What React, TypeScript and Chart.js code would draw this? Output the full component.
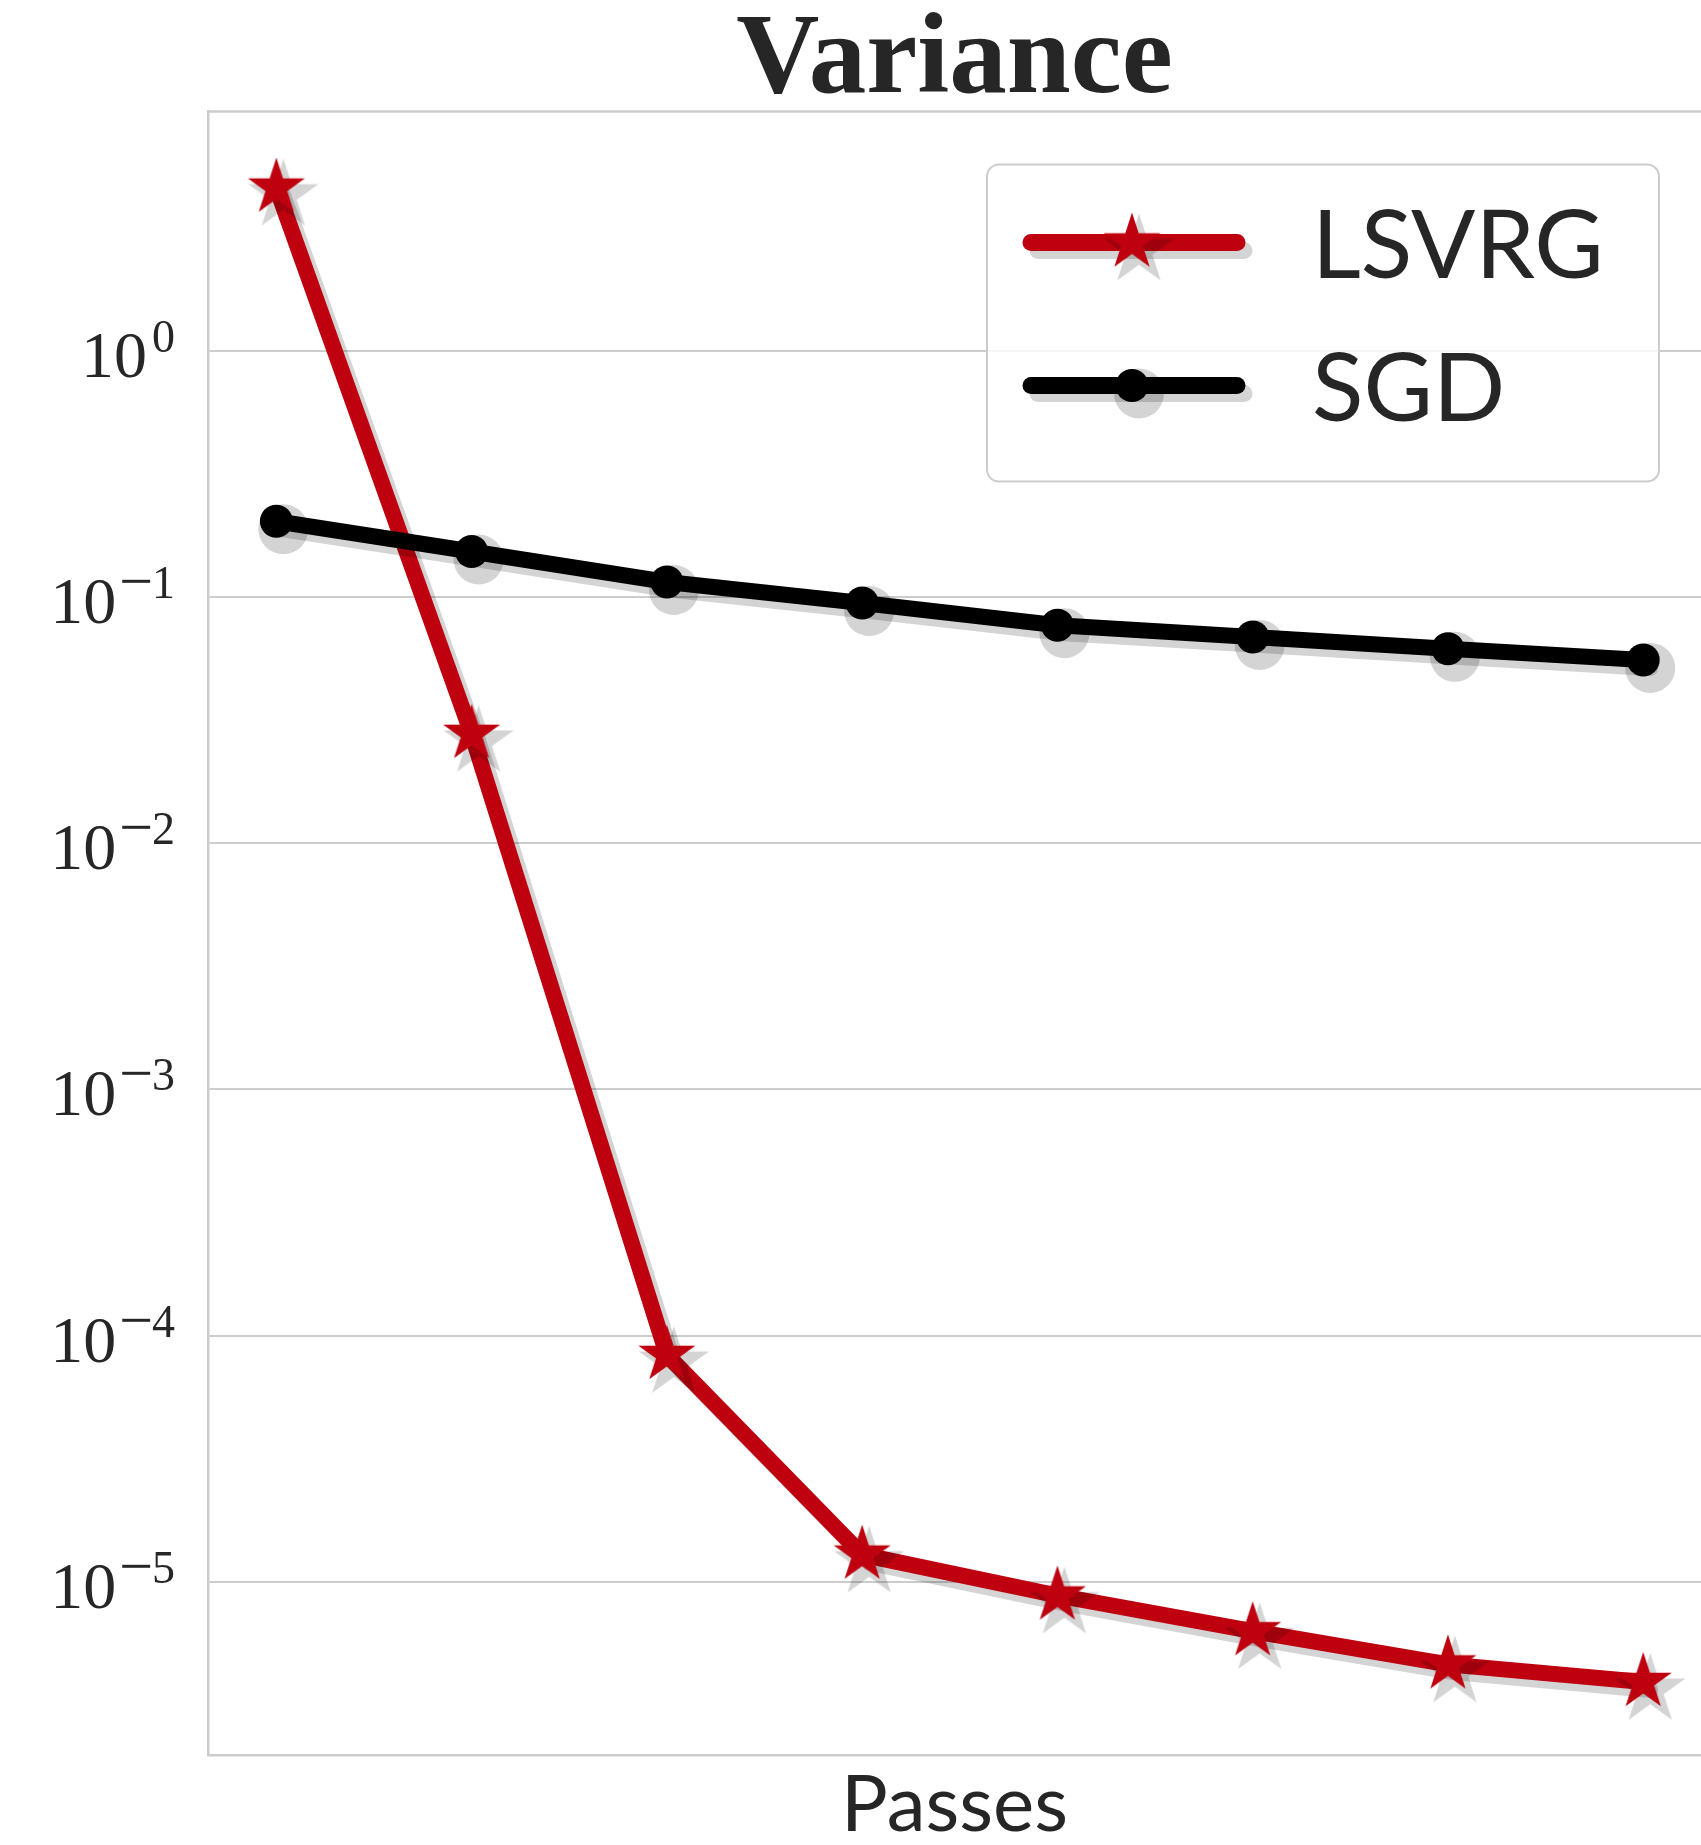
import { useEffect, useRef } from 'react';
import { Chart, registerables } from 'chart.js';

Chart.register(...registerables);

// ---- data ----
const passIndex = [0, 1, 2, 3, 4, 5, 6, 7];
const lsvrgValues = [4.6, 0.0278, 8.35e-5, 1.29e-5, 8.8e-6, 6.3e-6, 4.62e-6, 3.92e-6];
const sgdValues = [0.203, 0.153, 0.115, 0.0945, 0.0768, 0.0688, 0.0616, 0.0555];
const yTickExponents = [0, -1, -2, -3, -4, -5];
const seriesNames = ['LSVRG', 'SGD'];
const chartTitle = 'Variance';
const xAxisTitle = 'Passes';

const Y_MIN = 1.98e-6;
const Y_MAX = 9.37;
const X_MIN = -0.35;
const X_MAX = 7.296;

// ---- style ----
const RED = '#be000f';
const BLACK = '#000000';
const SHADOW = 'rgba(0,0,0,0.17)';
const TEXT = '#262626';
const GRID = '#cccccc';
const LINE_W = 16;
const SHADOW_DX = 7;
const SHADOW_DY = 8;
const CIRCLE_R = 16.5;
const CIRCLE_SHADOW_R = 25;
const STAR_R = 30;
const STAR_SHADOW_R = 37;

function makeStar(R: number, color: string): HTMLCanvasElement {
  const pad = 2;
  const size = Math.ceil(2 * R + 2 * pad);
  const c = document.createElement('canvas');
  c.width = size;
  c.height = size;
  const ctx = c.getContext('2d')!;
  const cx = size / 2;
  const cy = size / 2;
  const r = R * 0.381966;
  ctx.beginPath();
  for (let i = 0; i < 10; i++) {
    const rad = i % 2 === 0 ? R : r;
    const a = -Math.PI / 2 + (i * Math.PI) / 5;
    const px = cx + rad * Math.cos(a);
    const py = cy + rad * Math.sin(a);
    if (i === 0) ctx.moveTo(px, py);
    else ctx.lineTo(px, py);
  }
  ctx.closePath();
  ctx.fillStyle = color;
  ctx.fill();
  return c;
}

export default function App() {
  const ref = useRef<HTMLCanvasElement>(null);

  useEffect(() => {
    const canvas = ref.current!;
    const starMain = makeStar(STAR_R, RED);
    const starShadow = makeStar(STAR_SHADOW_R, SHADOW);
    const pts = (vals: number[]) => passIndex.map((x, i) => ({ x, y: vals[i] }));

    const lineDs = (vals: number[], color: string, shadow: boolean) => ({
      data: pts(vals),
      borderColor: shadow ? SHADOW : color,
      backgroundColor: shadow ? SHADOW : color,
      borderWidth: LINE_W,
      pointRadius: 0,
      pointHoverRadius: 0,
      borderCapStyle: 'round',
      borderJoinStyle: 'round',
      fill: false,
      tension: 0,
      clip: false,
      isShadow: shadow,
    });
    const pointDs = (vals: number[], color: string, shadow: boolean, style: any, radius: number) => ({
      data: pts(vals),
      showLine: false,
      pointStyle: style,
      pointRadius: radius,
      pointHoverRadius: radius,
      pointBackgroundColor: color,
      pointBorderColor: color,
      pointBorderWidth: 0,
      borderColor: color,
      backgroundColor: color,
      clip: false,
      isShadow: shadow,
    });

    const shadowPlugin = {
      id: 'offsetShadow',
      beforeDatasetDraw(chart: any, args: any) {
        const ds = chart.data.datasets[args.index];
        if (ds.isShadow) {
          chart.ctx.save();
          chart.ctx.translate(SHADOW_DX, SHADOW_DY);
        }
      },
      afterDatasetDraw(chart: any, args: any) {
        const ds = chart.data.datasets[args.index];
        if (ds.isShadow) chart.ctx.restore();
      },
    };

    const framePlugin = {
      id: 'topSpine',
      beforeDatasetsDraw(chart: any) {
        const { ctx, chartArea } = chart;
        ctx.save();
        ctx.strokeStyle = GRID;
        ctx.lineWidth = 2.5;
        ctx.beginPath();
        ctx.moveTo(chartArea.left, chartArea.top);
        ctx.lineTo(chartArea.right, chartArea.top);
        ctx.stroke();
        ctx.restore();
      },
    };

    const tickLabelPlugin = {
      id: 'powerTicks',
      afterDraw(chart: any) {
        const { ctx, chartArea } = chart;
        const y = chart.scales.y;
        const right = chartArea.left - 33;
        ctx.save();
        ctx.fillStyle = TEXT;
        ctx.textAlign = 'left';
        ctx.textBaseline = 'alphabetic';
        for (const e of yTickExponents) {
          const py = y.getPixelForValue(Math.pow(10, e));
          const digits = String(Math.abs(e));
          ctx.font = "46px 'Liberation Serif', serif";
          const digW = ctx.measureText(digits).width;
          let x = right - digW;
          ctx.fillText(digits, x, py + 1);
          let gap = 5;
          if (e < 0) {
            ctx.font = "60px 'Liberation Serif', serif";
            const mW = ctx.measureText('\u2212').width;
            x = x - mW + 1;
            ctx.fillText('\u2212', x, py + 4);
            gap = 3;
          }
          ctx.font = "66px 'Liberation Serif', serif";
          const mainW = ctx.measureText('10').width;
          ctx.fillText('10', x - gap - mainW, py + 26);
        }
        ctx.restore();
      },
    };

    const legendPlugin = {
      id: 'boxLegend',
      afterDraw(chart: any) {
        const { ctx, chartArea } = chart;
        const bw = 672;
        const bh = 317;
        const bx = chartArea.right - 42 - bw;
        const by = chartArea.top + 53;
        ctx.save();
        ctx.beginPath();
        ctx.roundRect(bx, by, bw, bh, 12);
        ctx.fillStyle = 'rgba(255,255,255,0.8)';
        ctx.fill();
        ctx.strokeStyle = GRID;
        ctx.lineWidth = 2;
        ctx.stroke();

        const rows = [
          { name: seriesNames[0], color: RED, star: true, cy: by + 78 },
          { name: seriesNames[1], color: BLACK, star: false, cy: by + 221 },
        ];
        const lx0 = bx + 44;
        const lx1 = bx + 250;
        const mx = bx + 145;
        ctx.lineCap = 'round';
        for (const r of rows) {
          ctx.lineWidth = LINE_W + 1;
          ctx.strokeStyle = SHADOW;
          ctx.beginPath();
          ctx.moveTo(lx0 + SHADOW_DX, r.cy + SHADOW_DY);
          ctx.lineTo(lx1 + SHADOW_DX, r.cy + SHADOW_DY);
          ctx.stroke();
          ctx.strokeStyle = r.color;
          ctx.beginPath();
          ctx.moveTo(lx0, r.cy);
          ctx.lineTo(lx1, r.cy);
          ctx.stroke();
          if (r.star) {
            ctx.drawImage(starShadow, mx + SHADOW_DX - starShadow.width / 2, r.cy + SHADOW_DY - starShadow.height / 2);
            ctx.drawImage(starMain, mx - starMain.width / 2, r.cy - starMain.height / 2);
          } else {
            ctx.fillStyle = SHADOW;
            ctx.beginPath();
            ctx.arc(mx + SHADOW_DX, r.cy + SHADOW_DY, CIRCLE_SHADOW_R, 0, Math.PI * 2);
            ctx.fill();
            ctx.fillStyle = r.color;
            ctx.beginPath();
            ctx.arc(mx, r.cy, CIRCLE_R, 0, Math.PI * 2);
            ctx.fill();
          }
          ctx.fillStyle = TEXT;
          ctx.font = '95px Lato, sans-serif';
          ctx.textAlign = 'left';
          ctx.textBaseline = 'alphabetic';
          ctx.fillText(r.name, bx + 325, r.cy + 35);
        }
        ctx.restore();
      },
    };

    const chart = new Chart(canvas, {
      type: 'line',
      data: {
        datasets: [
          pointDs(sgdValues, BLACK, false, 'circle', CIRCLE_R),
          pointDs(sgdValues, SHADOW, true, 'circle', CIRCLE_SHADOW_R),
          lineDs(sgdValues, BLACK, false),
          lineDs(sgdValues, BLACK, true),
          pointDs(lsvrgValues, RED, false, starMain, STAR_R / 2),
          pointDs(lsvrgValues, SHADOW, true, starShadow, STAR_R / 2),
          lineDs(lsvrgValues, RED, false),
          lineDs(lsvrgValues, RED, true),
        ] as any,
      },
      options: {
        animation: false,
        responsive: false,
        devicePixelRatio: 1,
        events: [],
        layout: { autoPadding: false, padding: { left: 208, right: 0, top: 2.5, bottom: 0 } },
        plugins: {
          legend: { display: false },
          tooltip: { enabled: false },
          title: {
            display: true,
            text: chartTitle,
            color: TEXT,
            font: { family: "'Liberation Serif', serif", size: 115, weight: 'bold', lineHeight: 0.8 },
            padding: { top: 13.5, bottom: 3.5 },
          },
        },
        scales: {
          x: {
            type: 'linear',
            bounds: 'data',
            min: X_MIN,
            max: X_MAX,
            grid: { display: false, drawTicks: false },
            border: { display: true, color: GRID, width: 2.5 },
            ticks: { display: false },
            title: {
              display: true,
              text: xAxisTitle,
              color: TEXT,
              font: { family: 'Lato, sans-serif', size: 78, lineHeight: 1 },
              padding: { top: 12, bottom: 0 },
            },
          },
          y: {
            type: 'logarithmic',
            bounds: 'data',
            min: Y_MIN,
            max: Y_MAX,
            afterBuildTicks: (s: any) => {
              s.ticks = yTickExponents.map((e) => ({ value: Math.pow(10, e) }));
            },
            grid: { color: GRID, lineWidth: 2, drawTicks: false },
            border: { display: true, color: GRID, width: 2.5 },
            ticks: { display: false },
          },
        },
      } as any,
      plugins: [shadowPlugin, framePlugin, tickLabelPlugin, legendPlugin],
    });
    return () => chart.destroy();
  }, []);

  return (
    <canvas
      ref={ref}
      width={1701}
      height={1845}
      style={{ position: 'absolute', left: 0, top: 0, display: 'block', background: '#ffffff' }}
    />
  );
}
